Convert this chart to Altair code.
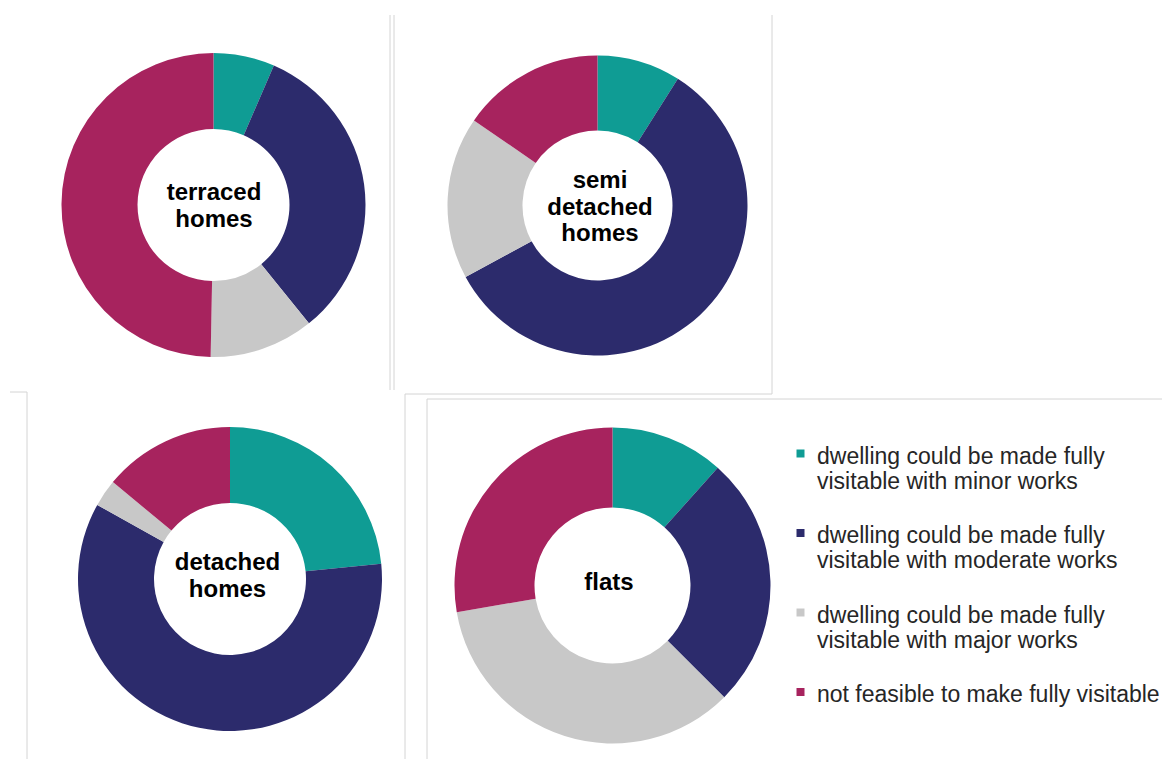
import altair as alt
import pandas as pd

# ---------------- data ----------------
categories = [
    "dwelling could be made fully visitable with minor works",
    "dwelling could be made fully visitable with moderate works",
    "dwelling could be made fully visitable with major works",
    "not feasible to make fully visitable",
]
colors = ["#0f9c94", "#2c2b6c", "#c8c8c8", "#a7235e"]

terraced = [6.5, 32.7, 11.1, 49.7]
semi_detached = [9.0, 58.1, 17.5, 15.4]
detached = [23.4, 59.7, 2.9, 14.0]
flats = [11.6, 25.9, 34.8, 27.7]

panel_labels = ["terraced homes", "semi detached homes", "detached homes", "flats"]

# ---------------- layout (canvas pixels) ----------------
centers = [(205.5, 197), (589.5, 197.5), (222, 571), (604.5, 577.5)]
# position of the first text line of each centre label
label_pos = [(206, 185), (592, 173), (219.5, 555), (601, 575)]
radii = [(76, 152), (75, 150), (76, 152), (78, 158)]

# panel frame segments
frame_x = [382, 386, 764, 397, 2, 19, 397, 419, 419]
frame_x2 = [382, 386, 764, 764, 19, 19, 397, 1170, 419]
frame_y = [7, 7, 7, 386, 384, 384, 386, 391, 391]
frame_y2 = [382, 382, 386, 386, 384, 760, 760, 391, 760]

legend = alt.Legend(
    orient="none",
    legendX=781,
    legendY=426,
    direction="vertical",
    title=None,
    labelExpr="split(replace(datum.label, 'fully visitable with', 'fully|visitable with'), '|')",
    labelFont="Liberation Sans",
    labelFontSize=23,
    labelColor="#262626",
    labelLimit=600,
    labelBaseline="top",
    labelOffset=5,
    symbolType="M-1,1L1,1L1,3L-1,3Z",
    symbolSize=64,
    symbolStrokeWidth=0,
    rowPadding=19.5,
    padding=0,
)

layers = []
for i, vals in enumerate([terraced, semi_detached, detached, flats]):
    df = pd.DataFrame({"category": categories, "value": vals, "order": list(range(4))})
    cx, cy = centers[i]
    rin, rout = radii[i]
    arc = alt.Chart(df).mark_arc(innerRadius=rin, outerRadius=rout).encode(
        theta=alt.Theta("value:Q", stack=True),
        color=alt.Color(
            "category:N",
            scale=alt.Scale(domain=categories, range=colors),
            sort=categories,
            legend=legend,
        ),
        order=alt.Order("order:Q"),
        x=alt.value(cx),
        y=alt.value(cy),
    )
    layers.append(arc)

for i, name in enumerate(panel_labels):
    lx, ly = label_pos[i]
    txt = alt.Chart(pd.DataFrame({"label": [name]})).mark_text(
        font="Liberation Sans",
        fontSize=24,
        fontWeight="bold",
        color="black",
        lineBreak=" ",
        lineHeight=26.5,
        baseline="middle",
        align="center",
    ).encode(text="label:N", x=alt.value(lx), y=alt.value(ly))
    layers.append(txt)

frames = pd.DataFrame({"x": frame_x, "x2": frame_x2, "y": frame_y, "y2": frame_y2})
rules = alt.Chart(frames).mark_rule(color="#d4d4d4", strokeWidth=1).encode(
    x=alt.X("x:Q", scale=None, axis=None),
    x2="x2:Q",
    y=alt.Y("y:Q", scale=None, axis=None),
    y2="y2:Q",
)
layers.insert(0, rules)

chart = alt.layer(*layers).resolve_scale(theta="independent").properties(
    width=1154,
    height=751,
    autosize=alt.AutoSizeParams(type="none"),
    padding=0,
    background="white",
).configure_view(strokeWidth=0)

chart.save("out.html", embed_options={"renderer": "svg", "actions": False})
